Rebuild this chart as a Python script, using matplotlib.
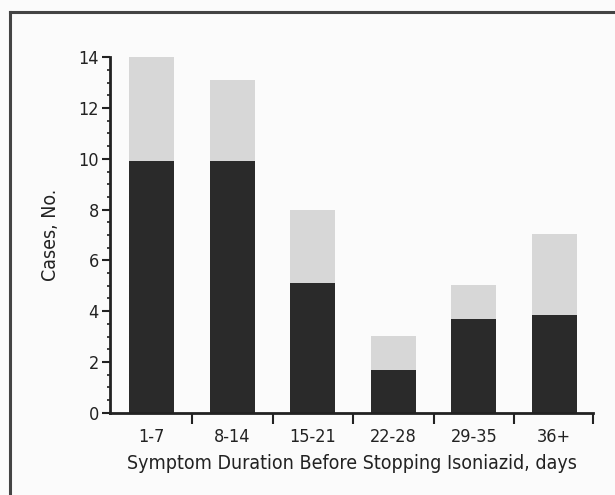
import matplotlib
matplotlib.use("Agg")
import matplotlib.pyplot as plt
from matplotlib.lines import Line2D
from matplotlib.ticker import MultipleLocator
import numpy as np

categories = ["1-7", "8-14", "15-21", "22-28", "29-35", "36+"]
dark_values = [9.9, 9.9, 5.1, 1.7, 3.7, 3.85]
total_values = [14, 13.1, 8, 3.02, 5.03, 7.05]
y_ticks = [0, 2, 4, 6, 8, 10, 12, 14]

plt.rcParams['font.family'] = ['DejaVu Sans']
plt.rcParams['font.stretch'] = 'condensed'

W, H = 615, 495
fig = plt.figure(figsize=(W / 100, H / 100), dpi=100, facecolor="#fbfbfb")
ax = fig.add_axes([110 / W, 1 - 412.7 / H, (593 - 110) / W, (412.7 - 57.3) / H])
ax.set_facecolor("none")

x = np.arange(len(categories))
light_values = [t - d for t, d in zip(total_values, dark_values)]
ax.bar(x, dark_values, width=0.56, color="#2a2a2a", edgecolor="none", zorder=2)
ax.bar(x, light_values, width=0.56, bottom=dark_values, color="#d7d7d7",
       edgecolor="none", zorder=2)

ax.set_xlim(-0.52, 5.48)
ax.set_ylim(0, 14)

for s in ["top", "right"]:
    ax.spines[s].set_visible(False)
for s in ["left", "bottom"]:
    ax.spines[s].set_linewidth(2.0)
    ax.spines[s].set_color("#222222")

ax.set_yticks(y_ticks)
ax.set_yticklabels([str(v) for v in y_ticks], fontsize=13, color="#222222")
ax.yaxis.set_minor_locator(MultipleLocator(0.5))
ax.tick_params(axis="y", which="major", direction="out", length=6, width=1.5,
               color="#222222", pad=2)
ax.tick_params(axis="y", which="minor", direction="out", length=2.5, width=1.2,
               color="#222222")

ax.set_xticks(x)
ax.set_xticklabels(categories, fontsize=13, color="#222222")
ax.tick_params(axis="x", which="major", length=0, pad=11)
ax.set_xticks(list(np.arange(0.5, 5.0, 1.0)) + [5.48], minor=True)
ax.tick_params(axis="x", which="minor", direction="out", length=8, width=1.5,
               color="#222222")

ax.set_ylabel("Cases, No.", fontsize=14, color="#222222", labelpad=13)
ax.set_xlabel("Symptom Duration Before Stopping Isoniazid, days", fontsize=14,
              color="#222222", labelpad=6)

fig.add_artist(Line2D([10 / W, 10 / W], [0, 1 - 12 / H], transform=fig.transFigure,
                      color="#444444", linewidth=2.2))
fig.add_artist(Line2D([10 / W, 1], [1 - 12 / H, 1 - 12 / H], transform=fig.transFigure,
                      color="#444444", linewidth=2.2))

fig.savefig("out.png", dpi=100, facecolor=fig.get_facecolor())
